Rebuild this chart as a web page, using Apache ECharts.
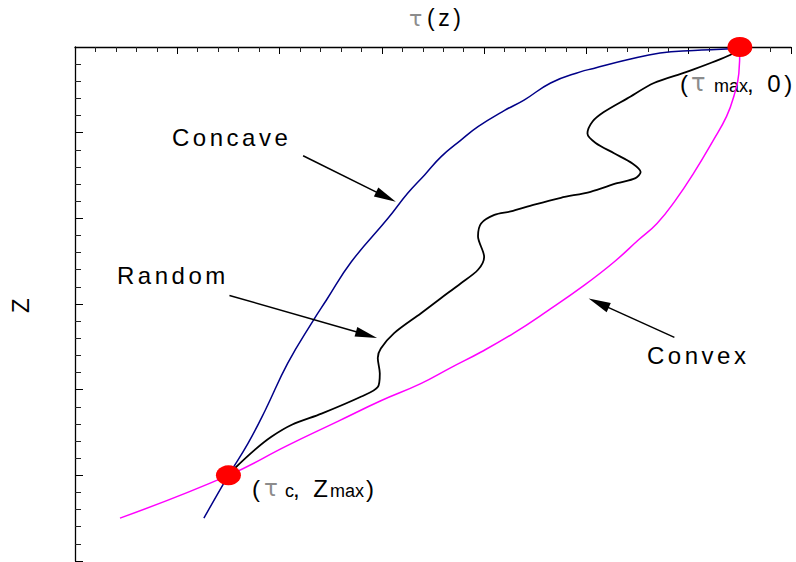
<!DOCTYPE html>
<html lang="en">

<head>
    <meta charset="UTF-8">
    <title>τ(z)</title>
    <script src="https://cdn.jsdelivr.net/npm/echarts@6.0.0/dist/echarts.min.js"></script>
    <style>
        html, body { margin: 0; padding: 0; background: #fff; }
        /* lettering in the original figure is widely spaced */
        #main text { letter-spacing: 3.5px; }
        #main text.sub { letter-spacing: 0; }
    </style>
</head>

<body>
    <div id="main" style="width: 796px;height:562px;"></div>
    <script type="text/javascript">
        // tau on the x axis (0..7), depth z downwards (0..6)
        var concaveTau = [1.26, 1.50, 1.69, 1.86, 2.08, 2.33, 2.46, 2.70, 3.06, 3.25, 3.42, 3.58, 3.77, 3.94,
            4.20, 4.39, 4.65, 4.94, 5.07, 5.40, 5.72, 6.05, 6.41, 6.50];
        var concaveZ = [5.50, 5.00, 4.63, 4.24, 3.69, 3.19, 2.95, 2.51, 2.00, 1.71, 1.49, 1.28, 1.09, 0.93,
            0.74, 0.62, 0.42, 0.29, 0.25, 0.15, 0.07, 0.04, 0.02, 0.00];

        var convexTau = [0.44, 1.50, 2.08, 2.57, 2.99, 3.38, 3.68, 3.97, 4.29, 4.62, 4.98, 5.27, 5.51, 5.69,
            5.87, 6.05, 6.24, 6.37, 6.44, 6.49, 6.50];
        var convexZ = [5.50, 5.00, 4.65, 4.37, 4.13, 3.93, 3.74, 3.56, 3.34, 3.08, 2.78, 2.51, 2.25, 2.06,
            1.79, 1.47, 1.09, 0.81, 0.58, 0.31, 0.00];

        var randomTau = [1.50, 1.56, 1.76, 1.92, 2.12, 2.41, 2.80, 2.96, 2.98, 2.96, 2.99, 3.12, 3.38, 3.58,
            3.77, 3.94, 4.00, 3.94, 3.97, 4.10, 4.26, 4.49, 4.75, 5.04, 5.30, 5.48, 5.53, 5.45, 5.27, 5.09,
            5.01, 5.06, 5.17, 5.40, 5.66, 5.98, 6.41, 6.50];
        var randomZ = [5.00, 4.92, 4.70, 4.55, 4.41, 4.28, 4.08, 3.97, 3.81, 3.63, 3.52, 3.34, 3.11, 2.93,
            2.76, 2.60, 2.45, 2.21, 2.06, 1.96, 1.92, 1.84, 1.76, 1.69, 1.59, 1.53, 1.46, 1.36, 1.24, 1.12,
            1.01, 0.87, 0.76, 0.60, 0.42, 0.29, 0.09, 0.00];

        // end points (tau_max, 0) and (tau_c, Z_max)
        var endTau = [6.50, 1.50];
        var endZ = [0.00, 5.00];

        function pairs(xs, ys) {
            return xs.map(function (x, i) { return [x, ys[i]]; });
        }

        // arrows: [from, to] in data units
        var arrows = [
            [[2.23, 1.27], [3.04, 1.75]],   // Concave
            [[1.51, 2.90], [2.85, 3.36]],   // Random
            [[5.86, 3.39], [5.12, 2.99]]    // Convex
        ];

        var FONT = "'Liberation Sans', Arial, sans-serif";
        var TAU_GREY = '#8c8c8c';
        var SUBS = ['max', 'c'];

        function txt(x, y, s, size, color, family) {
            return {
                type: 'text', x: x, y: y, silent: true,
                style: {
                    text: s,
                    font: size + 'px ' + (family || FONT),
                    fill: color || '#000',
                    verticalAlign: 'middle'
                }
            };
        }

        var myChart = echarts.init(document.getElementById('main'), null, { renderer: 'svg' });

        myChart.setOption({
            animation: false,
            backgroundColor: '#fff',
            grid: { left: 73, top: 47, right: 5, bottom: 1 },
            xAxis: {
                type: 'value',
                position: 'top',
                min: 0, max: 7, interval: 1,
                axisLine: { onZero: false, lineStyle: { color: '#000', width: 1.3 } },
                axisTick: { inside: true, length: 7, lineStyle: { color: '#000' } },
                minorTick: { show: true, splitNumber: 5, length: 5, lineStyle: { color: '#222' } },
                axisLabel: { show: false },
                splitLine: { show: false }
            },
            yAxis: {
                type: 'value',
                inverse: true,
                min: 0, max: 6, interval: 1,
                name: 'Z',
                nameLocation: 'middle',
                nameGap: 43,
                nameRotate: 90,
                nameTextStyle: { fontSize: 24, color: '#000', fontFamily: FONT },
                axisLine: { onZero: false, lineStyle: { color: '#000', width: 1.3 } },
                axisTick: { inside: true, length: 8, lineStyle: { color: '#000' } },
                minorTick: { show: true, splitNumber: 5, length: 6, lineStyle: { color: '#222' } },
                axisLabel: { show: false },
                splitLine: { show: false }
            },
            series: [
                {
                    name: 'Concave', type: 'line', data: pairs(concaveTau, concaveZ),
                    smooth: 0.45, showSymbol: false, clip: false,
                    lineStyle: { color: '#000088', width: 1.5 }
                },
                {
                    name: 'Convex', type: 'line', data: pairs(convexTau, convexZ),
                    smooth: 0.45, showSymbol: false, clip: false,
                    lineStyle: { color: '#ff00ff', width: 1.5 }
                },
                {
                    name: 'Random', type: 'line', data: pairs(randomTau, randomZ),
                    smooth: 0.3, showSymbol: false, clip: false,
                    lineStyle: { color: '#000', width: 1.8 },
                    markLine: {
                        silent: true,
                        symbol: ['none', 'triangle'],
                        symbolSize: [10, 22],
                        label: { show: false },
                        lineStyle: { color: '#000', width: 1.5, type: 'solid' },
                        data: arrows.map(function (a) {
                            return [{ coord: a[0] }, { coord: a[1] }];
                        })
                    }
                },
                {
                    name: 'ends', type: 'scatter', data: pairs(endTau, endZ),
                    symbol: 'circle', symbolSize: [25, 20], clip: false, z: 5,
                    itemStyle: { color: '#ff0000', opacity: 1 }
                }
            ],
            graphic: [
                // title tau(z)
                txt(409, 18, 'τ', 22, TAU_GREY, 'DejaVu Sans'),
                txt(427, 18, '(z)', 23),
                // curve names
                txt(172, 137, 'Concave', 24),
                txt(117, 275, 'Random', 24),
                txt(647, 355, 'Convex', 24),
                // (tau_max, 0)
                txt(680, 83, '(', 24),
                txt(691, 83, 'τ', 24, TAU_GREY, 'DejaVu Sans'),
                txt(714, 86, 'max', 18),
                txt(747, 83, ', 0)', 24),
                // (tau_c, Z_max)
                txt(252, 488, '(', 24),
                txt(264, 488, 'τ', 23, TAU_GREY, 'DejaVu Sans'),
                txt(285, 491, 'c', 18),
                txt(293, 488, ', Z', 24),
                txt(330, 491, 'max', 18),
                txt(366, 488, ')', 24)
            ]
        });

        // subscripts are not letter-spaced
        function unspaceSubs() {
            var list = document.querySelectorAll('#main text');
            for (var i = 0; i < list.length; i++) {
                if (SUBS.indexOf(list[i].textContent) >= 0) {
                    list[i].classList.add('sub');
                }
            }
        }
        myChart.getZr().refreshImmediately();
        unspaceSubs();
        myChart.on('finished', unspaceSubs);
    </script>
</body>

</html>
